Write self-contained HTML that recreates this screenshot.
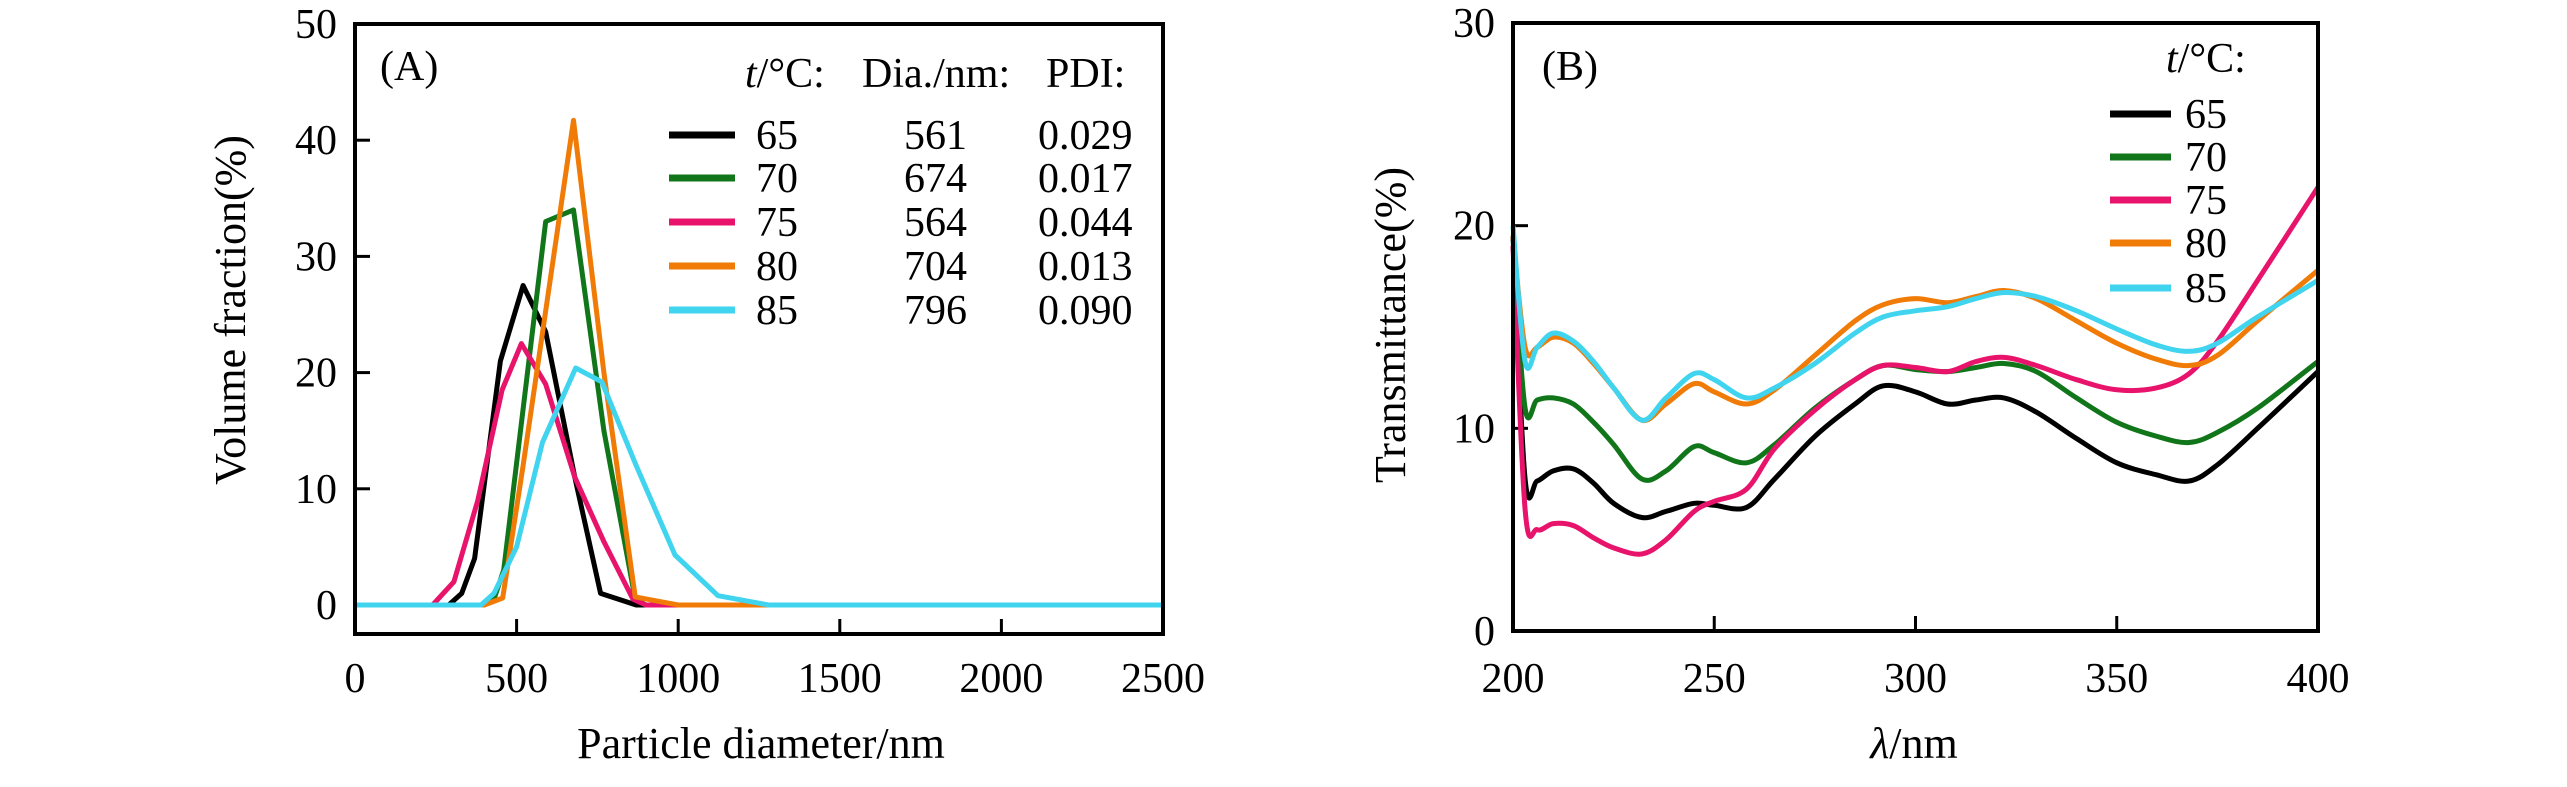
<!DOCTYPE html>
<html><head><meta charset="utf-8"><style>
html,body{margin:0;padding:0;background:#fff;}
svg{display:block;}
svg text{font-family:"Liberation Serif","Times New Roman",serif;}
</style></head><body>
<svg id="chart" width="2567" height="787" viewBox="0 0 2567 787" font-family="Liberation Serif, serif"></svg>
<script>
// ---------- Panel A data ----------
const aTicksX = [0,500,1000,1500,2000,2500];
const aTicksY = [0,10,20,30,40,50];
const aTemps = ["65","70","75","80","85"];
const aDia = ["561","674","564","704","796"];
const aPdi = ["0.029","0.017","0.044","0.013","0.090"];
const a65x = [0,290,330,370,450,520,590,680,760,870,2500];
const a65y = [0,0,1,4,21,27.5,23.5,11,1,0,0];
const a70x = [0,400,430,460,590,676,770,867,900,2500];
const a70y = [0,0,0.5,3,33,34,15,0.5,0,0];
const a75x = [0,240,306,380,455,515,590,680,771,860,900,2500];
const a75y = [0,0,2,9,18.5,22.5,19,11,5.4,0.5,0,0];
const a80x = [0,400,457,520,676,770,867,1000,2500];
const a80y = [0,0,0.6,12,41.7,20,0.7,0,0];
const a85x = [0,390,430,500,580,683,764,870,990,1123,1280,2500];
const a85y = [0,0,1,5,14,20.4,19.2,12,4.3,0.8,0,0];
// ---------- Panel B data ----------
const bTicksX = [200,250,300,350,400];
const bTicksY = [0,10,20,30];
const bX = [200,203,206,210,215,220,225,232,238,245,250,258,265,275,285,292,300,308,315,322,330,340,350,360,368,375,385,400];
const b65 = [19.5,7.5,7.4,7.9,8.0,7.3,6.3,5.6,5.9,6.3,6.2,6.1,7.5,9.6,11.2,12.1,11.8,11.2,11.4,11.5,10.8,9.5,8.3,7.7,7.4,8.2,10.0,12.8];
const b70 = [19,11.0,11.4,11.5,11.2,10.3,9.2,7.5,7.9,9.1,8.8,8.3,9.2,11.0,12.4,13.1,12.9,12.8,13.0,13.2,12.8,11.5,10.3,9.6,9.3,9.8,11.0,13.3];
const b75 = [19,6,5.0,5.3,5.2,4.6,4.1,3.8,4.5,5.9,6.4,7.0,9.0,10.9,12.4,13.1,13.0,12.8,13.3,13.5,13.1,12.4,11.9,12.0,12.7,14.3,17.3,21.9];
const b80 = [19.5,14,14.0,14.5,14.2,13.2,12.0,10.4,11.2,12.2,11.8,11.2,11.9,13.6,15.3,16.1,16.4,16.2,16.5,16.8,16.4,15.3,14.2,13.4,13.1,13.6,15.3,17.8];
const b85 = [20,13.3,14.0,14.7,14.3,13.3,12.0,10.4,11.5,12.7,12.4,11.5,12.0,13.2,14.7,15.5,15.8,16.0,16.4,16.7,16.5,15.8,14.9,14.1,13.8,14.2,15.5,17.3];

const colors = ["#000000","#11761a","#e8136b","#f07b06","#40d4ef"];
const FONT = "Liberation Serif, Times New Roman, serif";
const NS = "http://www.w3.org/2000/svg";
const svg = document.getElementById("chart");
function mk(tag, attrs, parent, text){
  const e = document.createElementNS(NS, tag);
  for (const k in attrs) e.setAttribute(k, attrs[k]);
  if (tag === "text") e.setAttribute("font-family", FONT);
  if (text !== undefined) e.textContent = text;
  (parent || svg).appendChild(e);
  return e;
}
const A = {l:355,r:1163,t:24,b:634,x0:0,x1:2500,y0p:605,yUnit:11.62};
const ax = v => A.l + (v - A.x0) / (A.x1 - A.x0) * (A.r - A.l);
const ay = v => A.y0p - v * A.yUnit;
const B = {l:1513,r:2318,t:23,b:631};
const bx = v => B.l + (v - 200) / 200 * (B.r - B.l);
const by = v => B.b - v / 30 * (B.b - B.t);

// ---------- Panel A ----------
const gA = mk("g", {});


aTicksX.forEach(v => {
  const t = mk("line", {x1:ax(v),x2:ax(v),y1:A.b,y2:A.b-15,stroke:"#000","stroke-width":3}, gA);
  
  
  const l = mk("text", {x:ax(v),y:692,"text-anchor":"middle","font-size":42}, gA, String(v));
  
  
});
aTicksY.forEach(v => {
  const t = mk("line", {x1:A.l,x2:A.l+15,y1:ay(v),y2:ay(v),stroke:"#000","stroke-width":3}, gA);
  
  
  const l = mk("text", {x:337,y:ay(v)+14,"text-anchor":"end","font-size":42}, gA, String(v));
  
  
});
const aSeries = [[a65x,a65y],[a70x,a70y],[a75x,a75y],[a80x,a80y],[a85x,a85y]];
aSeries.forEach((s,i) => {
  const d = s[0].map((x,j) => (j?"L":"M") + ax(x).toFixed(1) + "," + ay(s[1][j]).toFixed(1)).join(" ");
  const p = mk("path", {d:d,fill:"none",stroke:colors[i],"stroke-width":5,"stroke-linejoin":"round"}, gA);
  
  
});
const fa = mk("rect", {x:A.l,y:A.t,width:A.r-A.l,height:A.b-A.t,fill:"none",stroke:"#000","stroke-width":4}, gA);


const hdr = [["(A)",380,80],["t/°C:",745,87],["Dia./nm:",862,87],["PDI:",1046,87]];
hdr.forEach((h,i) => {
  const t = mk("text", {x:h[1],y:h[2],"font-size":42}, gA);
  if (i===1){ mk("tspan",{"font-style":"italic"},t,"t"); mk("tspan",{},t,"/°C:"); }
  else t.textContent = h[0];
  
  
});
const rowsA = [135,178,222,266,310];
aTemps.forEach((tp,i) => {
  const y = rowsA[i];
  const ln = mk("line", {x1:669,x2:735,y1:y,y2:y,stroke:colors[i],"stroke-width":7}, gA);
  
  
  const t1 = mk("text", {x:756,y:y+14,"font-size":42}, gA, tp);
  
  
  const t2 = mk("text", {x:904,y:y+14,"font-size":42}, gA, aDia[i]);
  
  
  const t3 = mk("text", {x:1038,y:y+14,"font-size":42}, gA, aPdi[i]);
  
  
});
const xta = mk("text", {x:761,y:758,"text-anchor":"middle","font-size":44}, gA, "Particle diameter/nm");


const yta = mk("text", {x:0,y:0,"text-anchor":"middle","font-size":44,transform:"translate(245,310) rotate(-90)"}, gA, "Volume fraction(%)");



// ---------- Panel B ----------
const gB = mk("g", {});


bTicksX.forEach(v => {
  const t = mk("line", {x1:bx(v),x2:bx(v),y1:B.b,y2:B.b-15,stroke:"#000","stroke-width":3}, gB);
  
  
  const l = mk("text", {x:bx(v),y:692,"text-anchor":"middle","font-size":42}, gB, String(v));
  
  
});
bTicksY.forEach(v => {
  const t = mk("line", {x1:B.l,x2:B.l+15,y1:by(v),y2:by(v),stroke:"#000","stroke-width":3}, gB);
  
  
  const l = mk("text", {x:1495,y:by(v)+14,"text-anchor":"end","font-size":42}, gB, String(v));
  
  
});
function smooth(pts){
  let d = "M" + pts[0][0].toFixed(1) + "," + pts[0][1].toFixed(1);
  for (let i=0;i<pts.length-1;i++){
    const p0 = pts[i-1]||pts[i], p1 = pts[i], p2 = pts[i+1], p3 = pts[i+2]||p2;
    const c1 = [p1[0]+(p2[0]-p0[0])/6, p1[1]+(p2[1]-p0[1])/6];
    const c2 = [p2[0]-(p3[0]-p1[0])/6, p2[1]-(p3[1]-p1[1])/6];
    d += " C" + c1.map(v=>v.toFixed(1)).join(",") + " " + c2.map(v=>v.toFixed(1)).join(",") + " " + p2[0].toFixed(1) + "," + p2[1].toFixed(1);
  }
  return d;
}
const bSeries = [b65,b70,b75,b80,b85];
bSeries.forEach((s,i) => {
  const pts = bX.map((x,j) => [bx(x), by(s[j])]);
  const p = mk("path", {d:smooth(pts),fill:"none",stroke:colors[i],"stroke-width":5,"stroke-linejoin":"round"}, gB);
  
  
});
const fb = mk("rect", {x:B.l,y:B.t,width:B.r-B.l,height:B.b-B.t,fill:"none",stroke:"#000","stroke-width":4}, gB);


const pb = mk("text", {x:1542,y:80,"font-size":42}, gB, "(B)");


const hb = mk("text", {x:2166,y:72,"font-size":42}, gB);
mk("tspan",{"font-style":"italic"},hb,"t"); mk("tspan",{},hb,"/°C:");


const rowsB = [114,157,200,243,288];
aTemps.forEach((tp,i) => {
  const y = rowsB[i];
  const ln = mk("line", {x1:2110,x2:2171,y1:y,y2:y,stroke:colors[i],"stroke-width":7}, gB);
  
  
  const t1 = mk("text", {x:2185,y:y+14,"font-size":42}, gB, tp);
  
  
});
const xtb = mk("text", {x:1914,y:758,"text-anchor":"middle","font-size":44}, gB);
mk("tspan",{"font-style":"italic"},xtb,"λ"); mk("tspan",{},xtb,"/nm");


const ytb = mk("text", {x:0,y:0,"text-anchor":"middle","font-size":44,transform:"translate(1405,325) rotate(-90)"}, gB, "Transmittance(%)");


</script>
</body></html>
